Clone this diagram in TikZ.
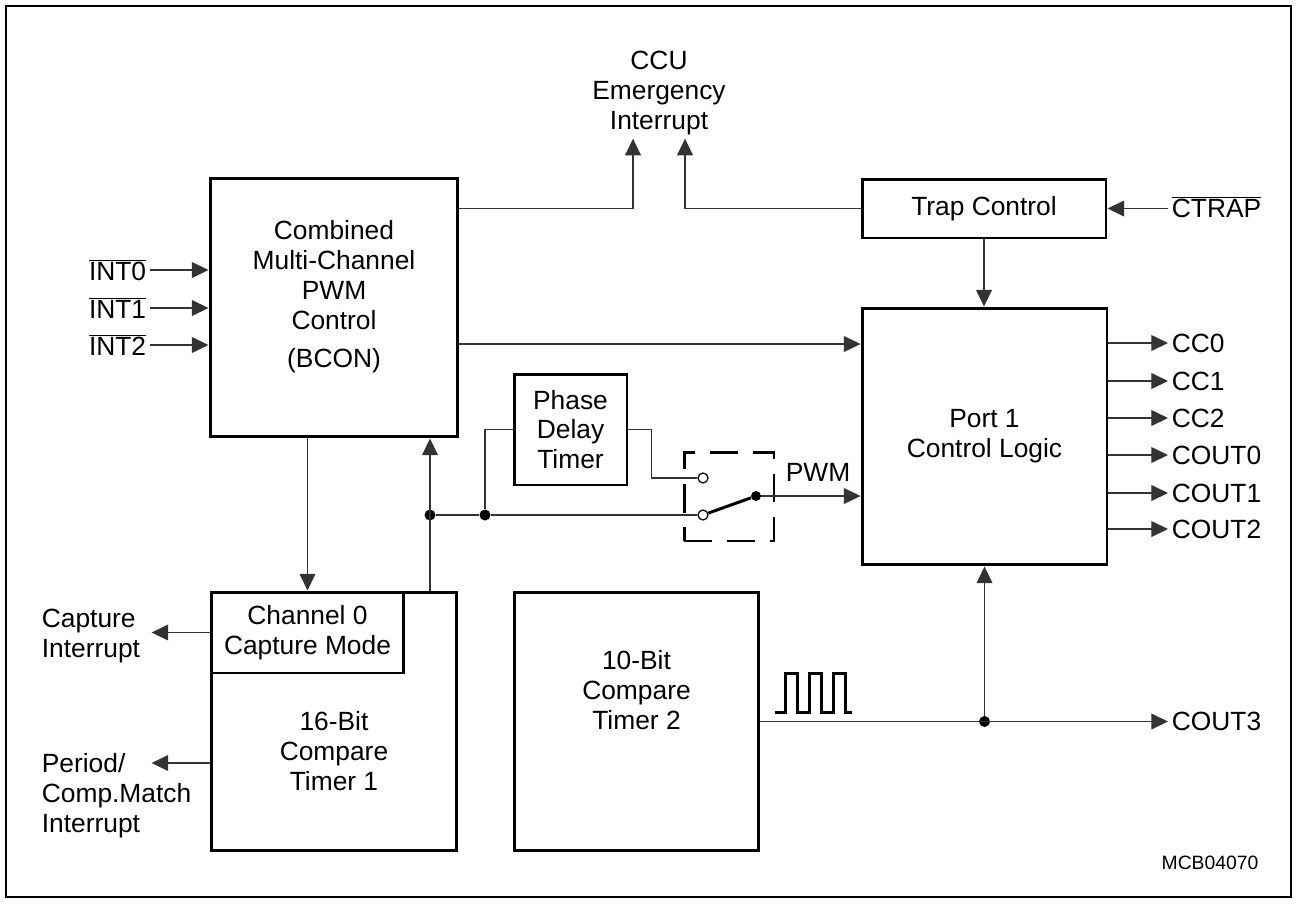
\documentclass[tikz,border=0pt]{standalone}
\usepackage{fontspec}
\setmainfont{Liberation Sans}
\usetikzlibrary{arrows.meta, positioning}

\begin{document}
\begin{tikzpicture}[
    x=0.02cm, y=-0.02cm,
    every node/.style={font=\fontsize{15}{17}\selectfont, inner sep=2pt},
    box/.style={rectangle, draw, line width=1.7pt, align=center},
    txt/.style={align=center},
    lbl/.style={align=left},
    wire/.style={line width=0.7pt, draw=black!80},
    arrow/.style={wire, -{Triangle[length=9.5pt, width=9pt]}},
    dot/.style={circle, fill, inner sep=0pt, minimum size=0.22cm},
    ocirc/.style={circle, draw, fill=white, line width=0.7pt, inner sep=0pt, minimum size=0.2cm},
    swbox/.style={draw, line width=1.7pt, dash pattern=on 16pt off 8.5pt, minimum width=1.8cm, minimum height=1.78cm}
  ]
  \useasboundingbox (0,0) rectangle (1297,903);
  \draw[line width=1.1pt] (6,6) rectangle (1291,897);

  % blocks
  \node[box, minimum width=4.96cm, minimum height=5.18cm] (comb) at (334,307.5) {};
  \node[txt] (combtxt) at (334,297) {Combined\\Multi-Channel\\PWM\\Control\\[5pt](BCON)};
  \node[box, minimum width=4.88cm, minimum height=1.18cm] (trap) at (984,208.5) {Trap Control};
  \node[box, minimum width=4.9cm, minimum height=5.14cm] (port) at (984.5,436.5) {Port 1\\Control Logic};
  \node[box, minimum width=2.26cm, minimum height=2.22cm] (pdt) at (570.5,429.5) {Phase\\Delay\\Timer};
  \node[box, minimum width=4.92cm, minimum height=5.18cm] (tim1) at (334,721.5) {};
  \node[box, minimum width=3.86cm, minimum height=1.62cm] (chan0) at (307.5,632.5) {Channel 0\\Capture Mode};
  \node[txt] (tim1txt) at (334,751) {16-Bit\\Compare\\Timer 1};
  \node[box, minimum width=4.9cm, minimum height=5.18cm] (tim2) at (636.5,721.5) {};
  \node[txt] (tim2txt) at (636.5,690) {10-Bit\\Compare\\Timer 2};
  \node[txt] (ccu) at (659,93) {CCU\\Emergency\\Interrupt};

  % pins
  \node[lbl, anchor=east] (int0) at (150,270) {$\overline{\mbox{INT0}}$};
  \node[lbl, anchor=east] (int1) at (150,308) {$\overline{\mbox{INT1}}$};
  \node[lbl, anchor=east] (int2) at (150,345) {$\overline{\mbox{INT2}}$};
  \node[lbl, anchor=west] (ctrap) at (1168,207) {$\overline{\mbox{CTRAP}}$};
  \node[lbl, anchor=west] (cc0) at (1168,343) {CC0};
  \node[lbl, anchor=west] (cc1) at (1168,381) {CC1};
  \node[lbl, anchor=west] (cc2) at (1168,418) {CC2};
  \node[lbl, anchor=west] (cout0) at (1168,455) {COUT0};
  \node[lbl, anchor=west] (cout1) at (1168,493) {COUT1};
  \node[lbl, anchor=west] (cout2) at (1168,529) {COUT2};
  \node[lbl, anchor=west] (cout3) at (1168,721.5) {COUT3};
  \node[lbl, anchor=west] (capint) at (38,636) {Capture\\Interrupt};
  \node[lbl, anchor=north west] (perint) at (38,750) {Period/\\Comp.Match\\Interrupt};
  \node (pwm) at (818,472) {PWM};
  \node[font=\fontsize{11}{13}\selectfont] (mcb) at (1210,863) {MCB04070};

  % switch
  \node[swbox] (sw) at (729,496.5) {};
  \node[dot] (j1) at (430,515) {};
  \node[dot] (j2) at (485,515) {};
  \node[dot] (j3) at (tim2.east -| port.south) {};
  \node[ocirc] (sw1) at (703,478) {};
  \node[ocirc] (sw2) at (703,515) {};
  \node[dot, minimum size=0.2cm] (swp) at (756,496) {};

  % connections
  \foreach \i in {int0,int1,int2}
    \draw[arrow] (\i.east) -- (\i.east -| comb.west);
  \foreach \o in {cc0,cc1,cc2,cout0,cout1,cout2}
    \draw[arrow] (\o.west -| port.east) -- (\o.west);
  \draw[arrow] (ctrap.west |- trap.east) -- (trap.east);
  \draw[arrow] (trap.south) -- (trap.south |- port.north);
  \draw[arrow] (comb.east |- trap.west) -| ([xshift=-0.52cm]ccu.south);
  \draw[arrow] (trap.west) -| ([xshift=0.52cm]ccu.south);
  \draw[arrow] (comb.east |- 0,344) -- (port.west |- 0,344);
  \draw[arrow] (comb.south -| chan0.north) -- (chan0.north);
  \draw[arrow] (j1 |- tim1.north) -- (j1 |- comb.south);
  \draw[wire] (j1) -- (j2) -- (sw2);
  \draw[wire] (j2) |- (pdt.west);
  \draw[wire] (pdt.east) -- ++(23,0) |- (sw1);
  \draw[line width=1.7pt] (sw2) -- (swp);
  \draw[arrow] (swp) -- (swp -| port.west);
  \draw[arrow] (chan0.west) -- ++(-58,0);
  \draw[arrow] (tim1.west |- 0,763) -- ++(-58,0);
  \draw[arrow] (tim2.east) -- (cout3.west |- tim2.east);
  \draw[arrow] (j3) -- (port.south);

  % pulse train
  \draw[line width=1.7pt] (775,712) -| (785,673) -| (797,712) -| (809,673) -| (821,712) -| (833,673) -| (845,712) -- (852,712);

\end{tikzpicture}
\end{document}
